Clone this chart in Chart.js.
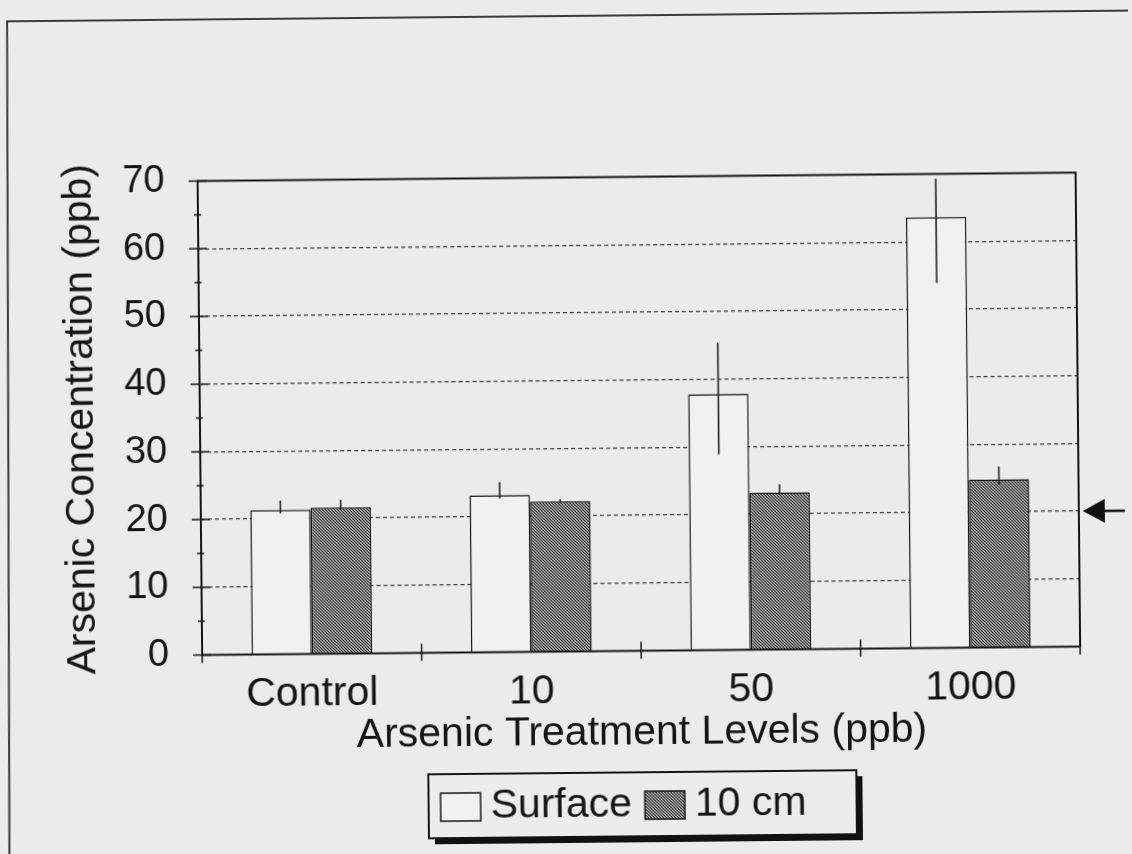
<!DOCTYPE html>
<html>
<head>
<meta charset="utf-8">
<script src="https://cdn.jsdelivr.net/npm/chart.js@4"></script>
<style>
    html, body { margin: 0; padding: 0; background: #ebebeb; overflow: hidden; }
    canvas { display: block; transform: rotate(-0.55deg); }
</style>
</head>
<body>
<canvas id="arsenicChart" width="1132" height="854"></canvas>
<script>
// Données
const categories = ["Control", "10", "50", "1000"];
const seriesLabels = ["Surface", "10 cm"];
const surfaceValues = [21.3, 23.2, 37.8, 63.6];
const surfaceErrUp = [1.4, 1.9, 7.6, 5.7];
const surfaceErrDown = [0.5, 0.5, 8.9, 9.7];
const deepValues = [21.6, 22.2, 23.2, 24.8];
const deepErrUp = [1.1, 0.3, 1.2, 1.9];
const deepErrDown = [0.3, 0.2, 0.3, 0.8];
const yTickLabels = [0, 10, 20, 30, 40, 50, 60, 70];
const arrowLevel = 20;

const ink = "#141414";
const errUp = [surfaceErrUp, deepErrUp];
const errDown = [surfaceErrDown, deepErrDown];

Chart.defaults.font.family = "'Liberation Sans', Arial, sans-serif";
Chart.defaults.color = ink;

// motif hachuré pour la série 10 cm
function makeHatch() {
    const c = document.createElement("canvas");
    c.width = 3;
    c.height = 3;
    const g = c.getContext("2d");
    g.fillStyle = "#9c9c9c";
    g.fillRect(0, 0, 3, 3);
    g.fillStyle = "#2a2a2a";
    for (let i = 0; i < 3; i++) g.fillRect(i, i, 1, 1);
    return g.createPattern(c, "repeat");
}
const hatch = makeHatch();

const decor = {
    id: "decor",
    beforeDraw(chart) {
        const ctx = chart.ctx;
        ctx.save();
        ctx.strokeStyle = "#3a3a3a";
        ctx.lineWidth = 2;
        ctx.beginPath();
        ctx.moveTo(5, 900);
        ctx.lineTo(11, 16);
        ctx.lineTo(1200, 16);
        ctx.stroke();
        ctx.restore();
    },
    afterDatasetsDraw(chart) {
        const ctx = chart.ctx;
        const y = chart.scales.y;
        const x = chart.scales.x;
        const a = chart.chartArea;
        ctx.save();
        ctx.strokeStyle = ink;

        // barres d'erreur
        ctx.lineWidth = 1.5;
        chart.data.datasets.forEach((ds, d) => {
            const meta = chart.getDatasetMeta(d);
            meta.data.forEach((bar, i) => {
                ctx.beginPath();
                ctx.moveTo(bar.x, y.getPixelForValue(ds.data[i] + errUp[d][i]));
                ctx.lineTo(bar.x, y.getPixelForValue(ds.data[i] - errDown[d][i]));
                ctx.stroke();
            });
        });

        // cadre du graphique
        ctx.lineWidth = 2;
        ctx.strokeRect(a.left, a.top, a.right - a.left, a.bottom - a.top);

        // graduations de l'axe y
        ctx.lineWidth = 1.5;
        for (let v = 0; v <= 70; v += 5) {
            const py = y.getPixelForValue(v);
            const major = yTickLabels.includes(v);
            ctx.beginPath();
            ctx.moveTo(a.left - (major ? 9 : 4), py);
            ctx.lineTo(a.left + (major ? 9 : 3), py);
            ctx.stroke();
        }

        // graduations de l'axe x (entre les catégories)
        for (let i = 0; i <= categories.length; i++) {
            let px;
            if (i === 0) px = a.left;
            else if (i === categories.length) px = a.right;
            else px = (x.getPixelForValue(i - 1) + x.getPixelForValue(i)) / 2;
            ctx.beginPath();
            ctx.moveTo(px, a.bottom - 9);
            ctx.lineTo(px, a.bottom + 8);
            ctx.stroke();
        }
        ctx.restore();
    },
    afterDraw(chart) {
        const ctx = chart.ctx;
        const a = chart.chartArea;
        const y = chart.scales.y;
        ctx.save();

        // flèche à droite
        const ay = y.getPixelForValue(arrowLevel);
        const tip = a.right + 4;
        ctx.fillStyle = "#111";
        ctx.beginPath();
        ctx.moveTo(tip, ay);
        ctx.lineTo(tip + 22, ay - 12);
        ctx.lineTo(tip + 22, ay + 12);
        ctx.closePath();
        ctx.fill();
        ctx.strokeStyle = "#111";
        ctx.lineWidth = 2.5;
        ctx.beginPath();
        ctx.moveTo(tip + 18, ay);
        ctx.lineTo(tip + 42, ay);
        ctx.stroke();

        // légende encadrée avec ombre
        const bx = 425, by = 773, bw = 428, bh = 64;
        ctx.fillStyle = "#111";
        ctx.fillRect(bx + 6, by + 6, bw, bh);
        ctx.fillStyle = "#ececec";
        ctx.fillRect(bx, by, bw, bh);
        ctx.strokeStyle = ink;
        ctx.lineWidth = 2;
        ctx.strokeRect(bx, by, bw, bh);

        ctx.font = "41px 'Liberation Sans', Arial, sans-serif";
        ctx.textBaseline = "middle";
        ctx.textAlign = "left";
        let lx = bx + 12;
        const my = by + bh / 2 + 1;
        chart.data.datasets.forEach((ds) => {
            ctx.fillStyle = ds.backgroundColor;
            ctx.fillRect(lx, my - 14, 40, 28);
            ctx.lineWidth = 1.5;
            ctx.strokeRect(lx, my - 14, 40, 28);
            lx += 50;
            ctx.fillStyle = ink;
            ctx.fillText(ds.label, lx, my);
            lx += ctx.measureText(ds.label).width + 13;
        });
        ctx.restore();
    }
};

const ctx = document.getElementById("arsenicChart").getContext("2d");
const arsenicChart = new Chart(ctx, {
    type: "bar",
    data: {
        labels: categories,
        datasets: [
            {
                label: seriesLabels[0],
                data: surfaceValues,
                backgroundColor: "#f1f1f1",
                borderColor: ink,
                borderWidth: 1.5,
                borderSkipped: "start"
            },
            {
                label: seriesLabels[1],
                data: deepValues,
                backgroundColor: hatch,
                borderColor: ink,
                borderWidth: 1.5,
                borderSkipped: "start"
            }
        ]
    },
    options: {
        responsive: false,
        animation: false,
        layout: { padding: { top: 177.5, right: 54, bottom: 0, left: 0 } },
        datasets: {
            bar: { categoryPercentage: 0.55, barPercentage: 1 }
        },
        plugins: {
            legend: { display: false },
            tooltip: { enabled: false }
        },
        scales: {
            x: {
                grid: { display: false },
                border: { display: false },
                ticks: { font: { size: 41 }, padding: 7.5, color: ink },
                title: {
                    display: true,
                    text: "Arsenic Treatment Levels (ppb)",
                    font: { size: 41 },
                    color: ink,
                    padding: { top: 0, bottom: 95.6 }
                },
                afterFit(scale) { scale.height = 202.5; }
            },
            y: {
                min: 0,
                max: 70,
                grid: {
                    drawTicks: false,
                    lineWidth: 1.2,
                    color: (c) => {
                        const v = c.tick ? c.tick.value : -1;
                        return (v % 10 === 0 && v > 0 && v < 70) ? "#3c3c3c" : "rgba(0,0,0,0)";
                    }
                },
                border: { display: false, dash: [4, 3] },
                ticks: {
                    stepSize: 5,
                    autoSkip: false,
                    padding: 33,
                    font: { size: 38 },
                    color: ink,
                    callback: (v) => yTickLabels.includes(v) ? v : ""
                },
                title: {
                    display: true,
                    text: "Arsenic Concentration (ppb)",
                    font: { size: 41 },
                    color: ink,
                    padding: { top: 57, bottom: 0 }
                },
                afterFit(scale) { scale.width = 200; }
            }
        }
    },
    plugins: [decor]
});
</script>
</body>
</html>
